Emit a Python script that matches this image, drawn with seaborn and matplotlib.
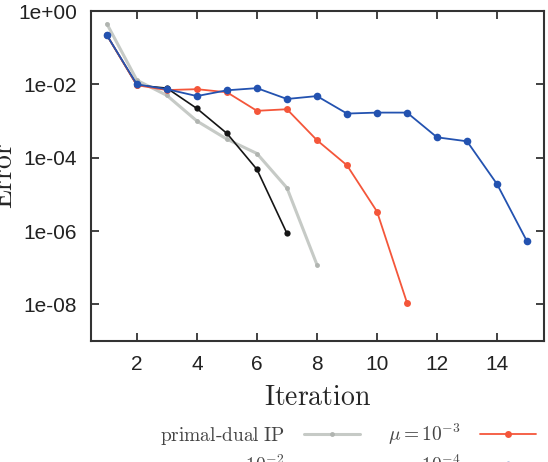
import matplotlib
matplotlib.use('Agg')
import matplotlib.pyplot as plt
from matplotlib.ticker import NullLocator
import seaborn as sns

# ============================================================
# Data
# ============================================================
it_ip = [1, 2, 3, 4, 5, 6, 7, 8]
err_ip = [0.45, 0.013, 0.005, 0.001, 3.2e-4, 1.3e-4, 1.5e-5, 1.2e-7]

it_mu2 = [1, 2, 3, 4, 5, 6, 7]
err_mu2 = [0.22, 0.0095, 0.0079, 0.0022, 4.6e-4, 4.8e-5, 8.6e-7]

it_mu3 = [1, 2, 3, 4, 5, 6, 7, 8, 9, 10, 11]
err_mu3 = [0.22, 0.0095, 0.007, 0.0074, 0.0061, 0.0019, 0.0021, 3.0e-4, 6.2e-5, 3.4e-6, 1.1e-8]

it_mu4 = [1, 2, 3, 4, 5, 6, 7, 8, 9, 10, 11, 12, 13, 14, 15]
err_mu4 = [0.22, 0.01, 0.0074, 0.0048, 0.0069, 0.0079, 0.004, 0.0048, 0.0016,
           0.0017, 0.0017, 3.6e-4, 2.8e-4, 1.9e-5, 5.2e-7]

ytick_vals = [1e0, 1e-2, 1e-4, 1e-6, 1e-8]
ytick_labels = ['1e+00', '1e-02', '1e-04', '1e-06', '1e-08']
xtick_vals = [2, 4, 6, 8, 10, 12, 14]

# ============================================================
# Figure
# ============================================================
sns.set_style('ticks', {'xtick.direction': 'in', 'ytick.direction': 'in'})
plt.rcParams['font.family'] = ['Liberation Sans', 'DejaVu Sans']
plt.rcParams['mathtext.fontset'] = 'cm'

fig = plt.figure(figsize=(5.48, 4.62), dpi=100)
ax = fig.add_axes([0.166, 0.262, 0.827, 0.714])

sns.lineplot(x=it_ip, y=err_ip, ax=ax, color='#c6cac6', linewidth=3.0,
             marker='o', markersize=3.5, markeredgewidth=0, markerfacecolor='#b0b4b0',
             label=r'$\mathrm{primal\text{-}dual\ IP}$')
sns.lineplot(x=it_mu2, y=err_mu2, ax=ax, color='#151515', linewidth=1.2,
             marker='o', markersize=4.5, markeredgewidth=0,
             label=r'$\mu = 10^{-2}$')
sns.lineplot(x=it_mu3, y=err_mu3, ax=ax, color='#f4563a', linewidth=1.3,
             marker='o', markersize=5, markeredgewidth=0,
             label=r'$\mu = 10^{-3}$')
sns.lineplot(x=it_mu4, y=err_mu4, ax=ax, color='#2352b0', linewidth=1.3,
             marker='o', markersize=5.5, markeredgewidth=0,
             label=r'$\mu = 10^{-4}$')

ax.set_yscale('log')
ax.set_xlim(0.47, 15.57)
ax.set_ylim(1e-9, 1e0)
ax.set_yticks(ytick_vals)
ax.set_yticklabels(ytick_labels)
ax.yaxis.set_minor_locator(NullLocator())
ax.set_xticks(xtick_vals)
ax.tick_params(which='major', direction='in', length=6, width=1.3, top=True, right=True,
               labelsize=15, color='#333333', labelcolor='#222222', pad=10)
for sp in ax.spines.values():
    sp.set_linewidth(1.5)
    sp.set_color('#333333')

ax.set_xlabel(r'$\mathrm{Iteration}$', fontsize=20, labelpad=8)
ax.set_ylabel(r'$\mathrm{Error}$', fontsize=20)
ax.yaxis.set_label_coords(-0.16, 0.5)

handles, labels = ax.get_legend_handles_labels()
ax.get_legend().remove()
handles[0].set_linewidth(2.2)
fig.legend(handles, labels, ncol=2, markerfirst=False, frameon=False,
           loc='center', bbox_to_anchor=(348 / 548, 1 - 449.5 / 462),
           fontsize=14, handlelength=2.9, columnspacing=1.4,
           handletextpad=1.0, labelspacing=0.3, labelcolor='#444444')

plt.savefig('out.png', dpi=100)
plt.close()
